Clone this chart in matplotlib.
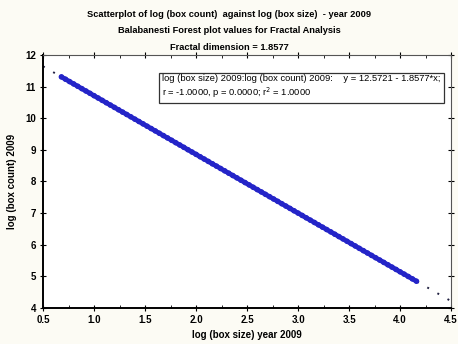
import matplotlib
matplotlib.use("Agg")
import matplotlib.pyplot as plt
import numpy as np

plt.rcParams['font.family'] = ['Liberation Sans', 'DejaVu Sans']

# log(box size) and log(box count) for the 2009 plot
log_box_size = [
    0.68, 0.72, 0.76, 0.80, 0.84, 0.88, 0.92, 0.96, 1.00, 1.04,
    1.08, 1.12, 1.16, 1.20, 1.24, 1.28, 1.32, 1.36, 1.40, 1.44,
    1.48, 1.52, 1.56, 1.60, 1.64, 1.68, 1.72, 1.76, 1.80, 1.84,
    1.88, 1.92, 1.96, 2.00, 2.04, 2.08, 2.12, 2.16, 2.20, 2.24,
    2.28, 2.32, 2.36, 2.40, 2.44, 2.48, 2.52, 2.56, 2.60, 2.64,
    2.68, 2.72, 2.76, 2.80, 2.84, 2.88, 2.92, 2.96, 3.00, 3.04,
    3.08, 3.12, 3.16, 3.20, 3.24, 3.28, 3.32, 3.36, 3.40, 3.44,
    3.48, 3.52, 3.56, 3.60, 3.64, 3.68, 3.72, 3.76, 3.80, 3.84,
    3.88, 3.92, 3.96, 4.00, 4.04, 4.08, 4.12, 4.16,
]
log_box_count = [
    11.309, 11.235, 11.160, 11.086, 11.012, 10.937, 10.863, 10.789, 10.714, 10.640,
    10.566, 10.491, 10.417, 10.343, 10.269, 10.194, 10.120, 10.046, 9.971, 9.897,
    9.823, 9.748, 9.674, 9.600, 9.525, 9.451, 9.377, 9.303, 9.228, 9.154,
    9.080, 9.005, 8.931, 8.857, 8.782, 8.708, 8.634, 8.559, 8.485, 8.411,
    8.337, 8.262, 8.188, 8.114, 8.039, 7.965, 7.891, 7.816, 7.742, 7.668,
    7.593, 7.519, 7.445, 7.371, 7.296, 7.222, 7.148, 7.073, 6.999, 6.925,
    6.850, 6.776, 6.702, 6.627, 6.553, 6.479, 6.405, 6.330, 6.256, 6.182,
    6.107, 6.033, 5.959, 5.884, 5.810, 5.736, 5.661, 5.587, 5.513, 5.439,
    5.364, 5.290, 5.216, 5.141, 5.067, 4.993, 4.918, 4.844,
]

# regression summary
intercept = 12.5721
slope = -1.8577
r_value = -1.0000
p_value = 0.0000
r_squared = 1.0000

x_ticks = [0.5, 1.0, 1.5, 2.0, 2.5, 3.0, 3.5, 4.0, 4.5]
y_ticks = [4, 5, 6, 7, 8, 9, 10, 11, 12]

fig = plt.figure(figsize=(4.58, 3.44), dpi=100, facecolor='#fcfbf4')
ax = fig.add_axes([0.094, 0.105, 0.891, 0.735])
ax.set_facecolor('white')

# densely packed points merge into a solid band
ax.plot(log_box_size, log_box_count, color='#2424c8', lw=3.4,
        solid_capstyle='round', zorder=3)
ax.scatter(log_box_size, log_box_count, s=16, color='#2424c8',
           edgecolors='none', zorder=3)

fit_x = np.array([x_ticks[0], x_ticks[-1]])
ax.plot(fit_x, intercept + slope * fit_x, color='#202040', lw=1.4,
        linestyle=(0, (1, 5)), zorder=2)

ax.set_xlim(x_ticks[0], x_ticks[-1])
ax.set_ylim(y_ticks[0], y_ticks[-1])
ax.set_xticks(x_ticks)
ax.set_xticklabels([f"{v:.1f}" for v in x_ticks])
ax.set_yticks(y_ticks)
ax.set_yticklabels([str(v) for v in y_ticks])
ax.set_xticks(np.arange(0.5, 4.51, 0.25), minor=True)
ax.tick_params(axis='both', which='major', direction='inout', length=4,
               width=0.8, labelsize=7, top=True, right=True, pad=3)
ax.tick_params(axis='both', which='minor', direction='in', length=2,
               width=0.6, top=True)
for lab in ax.get_xticklabels() + ax.get_yticklabels():
    lab.set_fontweight('bold')
for side in ['left', 'bottom']:
    ax.spines[side].set_linewidth(1.4)
for side in ['top', 'right']:
    ax.spines[side].set_linewidth(0.8)
    ax.spines[side].set_color('#555555')

ax.set_xlabel('log (box size) year 2009', fontsize=7, fontweight='bold', labelpad=4)
ax.set_ylabel('log (box count) 2009', fontsize=7, fontweight='bold', labelpad=6)

fig.text(0.5, 0.958, 'Scatterplot of log (box count)  against log (box size)  - year 2009',
         ha='center', va='center', fontsize=6.7, fontweight='bold')
fig.text(0.5, 0.911, 'Balabanesti Forest plot values for Fractal Analysis',
         ha='center', va='center', fontsize=6.7, fontweight='bold')
fig.text(0.5, 0.863, f'Fractal dimension = {abs(slope):.4f}',
         ha='center', va='center', fontsize=6.7, fontweight='bold')

info = (f'log (box size) 2009:log (box count) 2009:    y = {intercept:.4f} - {abs(slope):.4f}*x;\n'
        f'r = {r_value:.4f}, p = {p_value:.4f}; r$^2$ = {r_squared:.4f}')
ax.text(0.292, 0.925, info, transform=ax.transAxes, ha='left', va='top',
        fontsize=6.75, linespacing=1.2,
        bbox=dict(boxstyle='square,pad=0.35', facecolor='white',
                  edgecolor='#333333', linewidth=0.9), zorder=5)

fig.savefig('out.png', dpi=100, facecolor=fig.get_facecolor())
